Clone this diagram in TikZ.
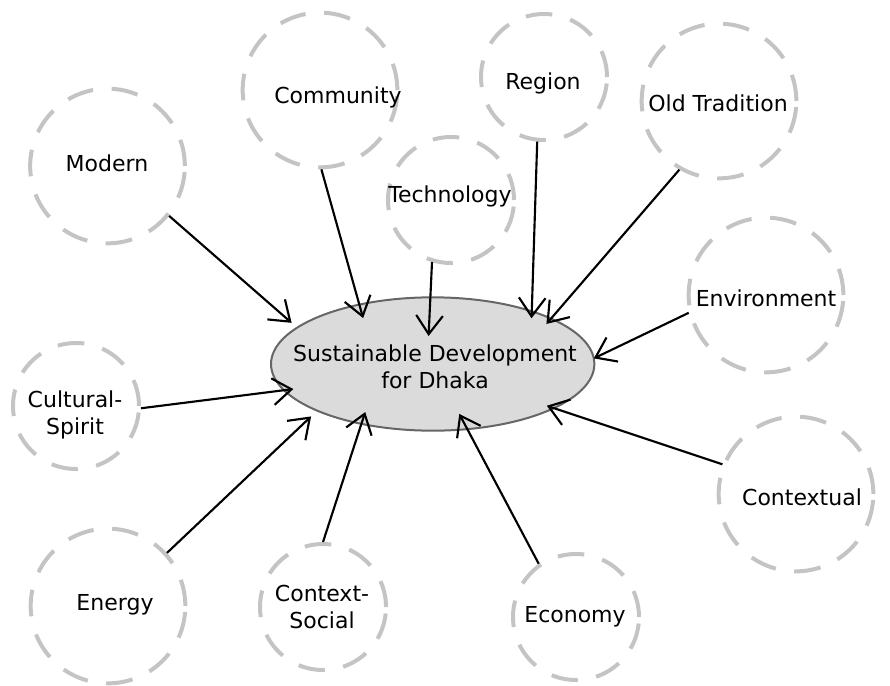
\documentclass[tikz,border=0pt]{standalone}
\usepackage{fontspec}
\setmainfont{DejaVu Sans}
\usetikzlibrary{shapes.geometric,arrows.meta}
\newcommand{\topic}[5]{\node[bubble, minimum size=#3] (#1) at (#2) {};
	\node[word] (#1txt) at (#4) {#5}}

\begin{document}
\begin{tikzpicture}[x=0.75pt, y=-0.75pt,
	bubble/.style={circle, draw=black!23, line width=3pt, dash pattern=on 20pt off 14pt, inner sep=0pt},
	word/.style={align=center, inner sep=0pt, font=\fontsize{16.5pt}{20pt}\selectfont},
	hub/.style={ellipse, draw=black!60, fill=black!14, line width=1.5pt, minimum width=242.5pt, minimum height=100pt, inner sep=0pt, outer sep=0pt},
	link/.style={-{Straight Barb[length=14pt, width=20pt]}, line width=1.6pt}]
\useasboundingbox (0,0) rectangle (890,686);
\node[hub] (sd) at (432.7,364) {};
\node[word] (sdtxt) at (435,367) {Sustainable Development\\for Dhaka};
%
	\topic{modern}{107.5,166}{116pt}{107,163}{Modern};
	\topic{comm}{320,90}{116pt}{338,97}{Community};
	\topic{tech}{451,200}{94.5pt}{450,196}{Technology};
	\topic{region}{544,77}{94.5pt}{543,83}{Region};
	\topic{oldtrad}{719,101}{116pt}{718,103}{Old Tradition};
	\topic{env}{766,295}{116pt}{766,298}{Environment};
	\topic{cult}{76,406}{94.5pt}{75,415}{Cultural-\\Spirit};
	\topic{ctxt}{796,494}{116pt}{802,497}{Contextual};
	\topic{energy}{108,606}{116pt}{115,605}{Energy};
	\topic{social}{323,607}{94.5pt}{322,607}{Context-\\Social};
	\topic{economy}{576,617}{94.5pt}{575,617}{Economy};
%
	\draw[link, shorten >=5.5pt] (modern.-39) -- (sd.165);
	\draw[link, shorten >=-10.5pt] (comm.-89) -- (sd.141);
	\draw[link, shorten >=-29pt] (tech.-107) -- (sd.92);
	\draw[link, shorten >=-5.2pt] (region.-96) -- (sd.28);
	\draw[link, shorten >=-5.3pt] (oldtrad.-120) -- (sd.21.5);
	\draw[link] (env.-167) -- (sd.2);
	\draw[link, shorten >=-7pt] (cult.-2) -- (sd.-170.7);
	\draw[link, shorten >=-5.6pt] (ctxt.158) -- (sd.-20.6);
	\draw[link, shorten >=6.3pt] (energy.42) -- (sd.-158.4);
	\draw[link, shorten >=-9.3pt] (social.90) -- (sd.-140.8);
	\draw[link, shorten >=-12.9pt] (economy.125) -- (sd.-62);
\end{tikzpicture}
\end{document}
